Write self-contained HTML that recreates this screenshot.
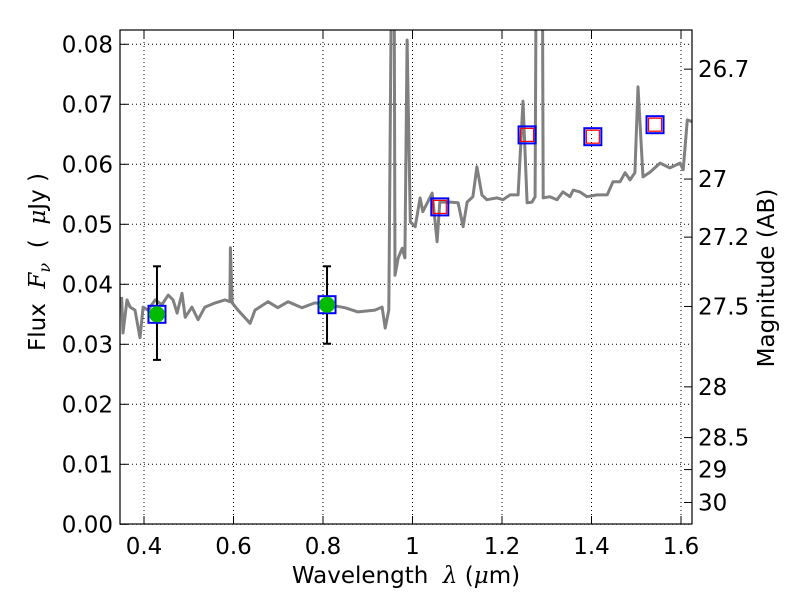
<!DOCTYPE html>
<html><head><meta charset="utf-8">
<style>
html,body{margin:0;padding:0;background:#fff;}
svg text{font-family:"DejaVu Sans","Liberation Sans",sans-serif;fill:#000;}
</style></head>
<body>
<svg id="chart" width="800" height="600" xmlns="http://www.w3.org/2000/svg">
<defs><clipPath id="plotclip"><rect x="120" y="30" width="572" height="494"/></clipPath></defs>
<g id="grid"></g>
<g id="series" clip-path="url(#plotclip)"></g>
<rect x="120" y="30" width="572" height="494" fill="none" stroke="#000" stroke-width="1.2"/>
<g id="axes"></g>
<text x="406" y="583" font-size="23" text-anchor="middle">Wavelength&#160;&#160;<tspan font-style="italic" font-family="DejaVu Serif,serif">λ</tspan> (<tspan font-style="italic" font-family="DejaVu Serif,serif">μ</tspan>m)</text>
<text transform="translate(45,262) rotate(-90)" font-size="23" text-anchor="middle">Flux&#160;&#160;<tspan font-style="italic" font-family="DejaVu Serif,serif">F<tspan font-size="16" dy="5">ν</tspan></tspan><tspan dy="-5">&#160;&#160;(&#160;&#160;</tspan><tspan font-style="italic" font-family="DejaVu Serif,serif">μ</tspan>Jy )</text>
<text transform="translate(774,278) rotate(-90)" font-size="23" text-anchor="middle">Magnitude (AB)</text>
</svg>
<script>
const specWl=[0.350,0.353,0.362,0.369,0.380,0.391,0.398,0.409,0.425,0.440,0.454,0.465,0.474,0.485,0.492,0.507,0.521,0.536,0.559,0.581,0.592,0.593,0.597,0.610,0.637,0.648,0.677,0.699,0.722,0.753,0.782,0.811,0.849,0.878,0.916,0.932,0.939,0.947,0.952,0.955,0.958,0.961,0.968,0.977,0.983,0.988,0.995,1.006,1.017,1.023,1.044,1.055,1.061,1.084,1.102,1.113,1.122,1.135,1.144,1.155,1.166,1.189,1.202,1.218,1.236,1.247,1.256,1.267,1.274,1.278,1.289,1.292,1.307,1.323,1.336,1.352,1.359,1.374,1.390,1.412,1.435,1.448,1.464,1.475,1.486,1.497,1.504,1.515,1.531,1.553,1.575,1.598,1.605,1.614,1.625];
const specFlux=[0.0379,0.0319,0.0374,0.0362,0.0357,0.0311,0.0362,0.0357,0.0374,0.0366,0.0382,0.0374,0.0352,0.0385,0.0345,0.0362,0.0341,0.0362,0.0369,0.0374,0.0371,0.0461,0.0369,0.0357,0.0335,0.0357,0.0371,0.0361,0.0371,0.0361,0.0369,0.0366,0.0361,0.0354,0.0357,0.0362,0.0327,0.0357,0.0821,0.12,0.12,0.0415,0.0444,0.0460,0.0444,0.0807,0.0504,0.0496,0.0544,0.0521,0.0552,0.0471,0.0537,0.0537,0.0536,0.0496,0.0537,0.0546,0.0596,0.0549,0.0541,0.0544,0.0541,0.0549,0.0549,0.0705,0.0536,0.0537,0.0546,0.12,0.12,0.0544,0.0546,0.0541,0.0554,0.0546,0.0557,0.0554,0.0546,0.0549,0.0549,0.0571,0.0571,0.0586,0.0574,0.0586,0.0729,0.0579,0.0587,0.0602,0.0594,0.0602,0.0591,0.0674,0.0671];
const detWl=[0.429,0.809];
const detFlux=[0.0350,0.0366];
const detErrHi=[0.0430,0.0430];
const detErrLo=[0.0274,0.0301];
const modWl=[1.061,1.256,1.403,1.542];
const modFlux=[0.0529,0.0649,0.0646,0.0666];
const xTicks=[0.4,0.6,0.8,1.0,1.2,1.4,1.6];
const xTickLabels=["0.4","0.6","0.8","1","1.2","1.4","1.6"];
const yTicks=[0,0.01,0.02,0.03,0.04,0.05,0.06,0.07,0.08];
const yTickLabels=["0.00","0.01","0.02","0.03","0.04","0.05","0.06","0.07","0.08"];
const magTicks=[26.7,27,27.2,27.5,28,28.5,29,30];
const magTickLabels=["26.7","27","27.2","27.5","28","28.5","29","30"];

const NS="http://www.w3.org/2000/svg";
const X=w=>144+(w-0.4)*447.5;
const Y=f=>524.3-f*6000;
const magToFlux=m=>Math.pow(10,(23.9-m)/2.5);
function mk(tag,attrs,parent){const e=document.createElementNS(NS,tag);for(const k in attrs)e.setAttribute(k,attrs[k]);parent.appendChild(e);return e;}
const grid=document.getElementById('grid'),series=document.getElementById('series'),axes=document.getElementById('axes');

xTicks.forEach((t,i)=>{
  const gl=mk('line',{x1:X(t),x2:X(t),y1:30,y2:524,stroke:'#000','stroke-width':1,'stroke-dasharray':'1,3'},grid);
  
  
  mk('line',{x1:X(t),x2:X(t),y1:524,y2:516,stroke:'#000'},axes);
  mk('line',{x1:X(t),x2:X(t),y1:30,y2:38,stroke:'#000'},axes);
  const tx=mk('text',{x:X(t),y:554,'font-size':23,'text-anchor':'middle'},axes);
  tx.textContent=xTickLabels[i];
  
  
});
yTicks.forEach((t,i)=>{
  const gl=mk('line',{x1:120,x2:692,y1:Y(t),y2:Y(t),stroke:'#000','stroke-width':1,'stroke-dasharray':'1,3'},grid);
  
  
  mk('line',{x1:120,x2:128,y1:Y(t),y2:Y(t),stroke:'#000'},axes);
  const tx=mk('text',{x:113,y:Y(t)+8,'font-size':23,'text-anchor':'end'},axes);
  tx.textContent=yTickLabels[i];
  
  
});
magTicks.forEach((m,i)=>{
  const y=Y(magToFlux(m));
  mk('line',{x1:692,x2:684,y1:y,y2:y,stroke:'#000'},axes);
  const tx=mk('text',{x:698,y:y+8,'font-size':23},axes);
  tx.textContent=magTickLabels[i];
  
  
});

const pl=mk('polyline',{points:specWl.map((w,i)=>X(w).toFixed(1)+','+Y(specFlux[i]).toFixed(1)).join(' '),fill:'none',stroke:'#808080','stroke-width':3,'stroke-linejoin':'round'},series);



detWl.forEach((w,i)=>{
  const x=X(w),y=Y(detFlux[i]);
  const eb=mk('g',{},series);
  
  
  mk('line',{x1:x,x2:x,y1:Y(detErrHi[i]),y2:Y(detErrLo[i]),stroke:'#000','stroke-width':2},eb);
  mk('line',{x1:x-4,x2:x+4,y1:Y(detErrHi[i]),y2:Y(detErrHi[i]),stroke:'#000','stroke-width':2},eb);
  mk('line',{x1:x-4,x2:x+4,y1:Y(detErrLo[i]),y2:Y(detErrLo[i]),stroke:'#000','stroke-width':2},eb);
  const sq=mk('rect',{x:x-8.5,y:y-8.5,width:17,height:17,fill:'none',stroke:'#0000ff','stroke-width':2},series);
  
  
  const c=mk('circle',{cx:x,cy:y,r:8,fill:'#00bb00'},series);
  
  
});
modWl.forEach((w,i)=>{
  const x=X(w),y=Y(modFlux[i]);
  const sq=mk('rect',{x:x-8.5,y:y-8.5,width:17,height:17,fill:'none',stroke:'#0000ff','stroke-width':2},series);
  
  
  const r=mk('rect',{x:x-6.5,y:y-6.5,width:13,height:13,fill:'none',stroke:'#ff0000','stroke-width':1.2},series);
  
  
});
</script>
</body></html>
